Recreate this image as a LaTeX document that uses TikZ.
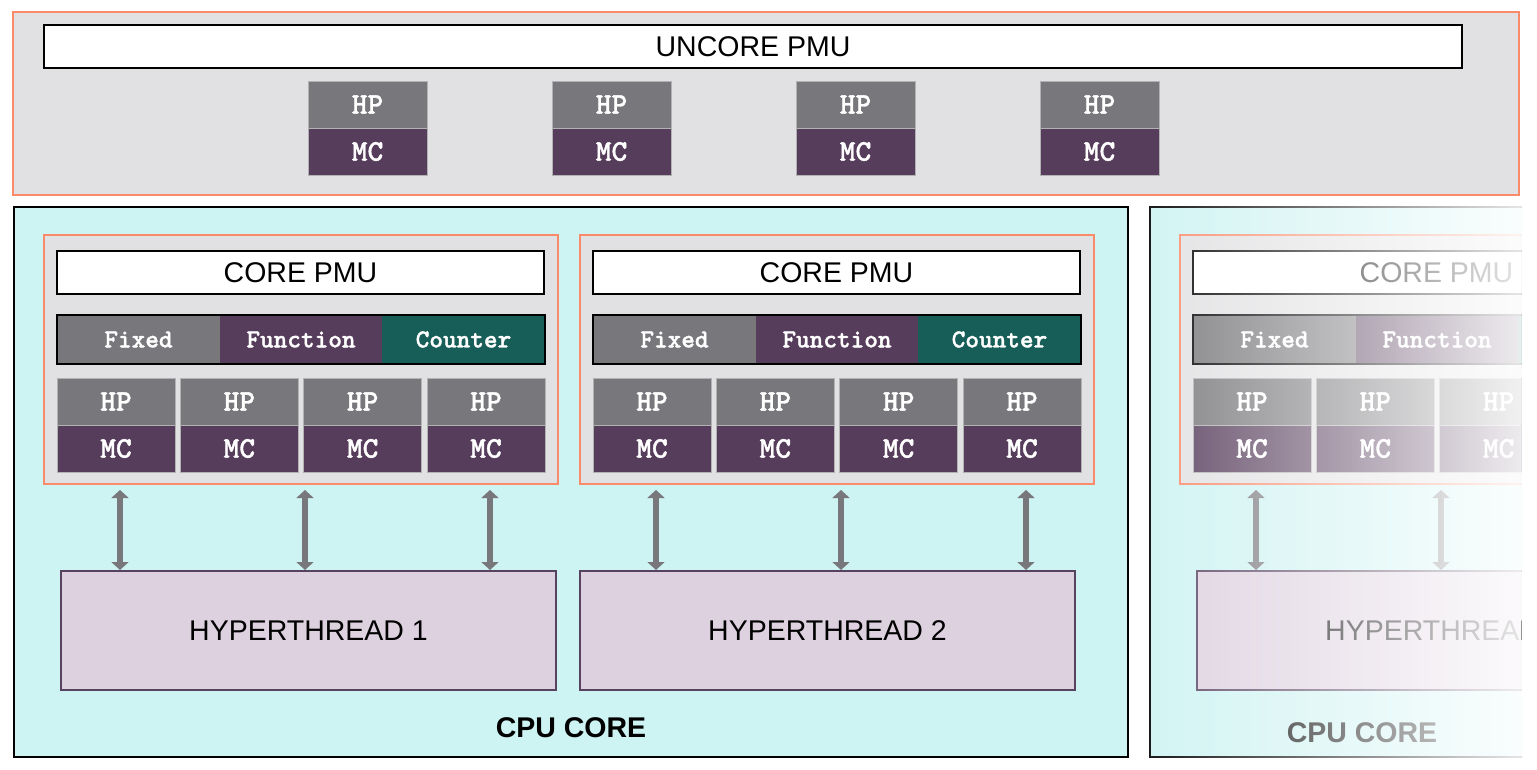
\documentclass[tikz,border=0pt]{standalone}
\usepackage{fontspec}
\setmainfont{Liberation Sans}
\newfontfamily\cellmono{lmmonolt10-bold.otf}[FakeBold=1.2]
\usepackage{tikz}
\usetikzlibrary{arrows.meta,positioning,fadings}

\definecolor{pmuorange}{HTML}{F98A6A}
\definecolor{pmugray}{HTML}{E1E1E3}
\definecolor{hpgray}{HTML}{78787C}
\definecolor{mcplum}{HTML}{573D5C}
\definecolor{cntgreen}{HTML}{175E58}
\definecolor{corecyan}{HTML}{CDF3F2}
\definecolor{htlilac}{HTML}{DDD0DF}
\definecolor{htedge}{HTML}{574360}

\tikzfading[name=fadecore, left color=transparent!90, right color=transparent!10]

\newcommand{\lblfont}{\fontsize{28.5}{32}\selectfont}
\newcommand{\cellfont}{\cellmono\fontsize{30}{32}\selectfont}
\newcommand{\regfont}{\cellmono\fontsize{26}{30}\selectfont}

\begin{document}
\begin{tikzpicture}[x=1pt, y=-1pt,
  panel/.style={draw=pmuorange, line width=2pt, fill=pmugray, inner sep=0pt},
  pmutitle/.style={draw=black, line width=1.5pt, fill=white, inner sep=0pt,
                   minimum height=43pt, font=\lblfont},
  hp/.style={fill=hpgray, draw=black!30, line width=0.6pt, inner sep=0pt, outer sep=0pt,
             minimum width=118pt, minimum height=47pt, text=white, font=\cellfont},
  mc/.style={hp, fill=mcplum},
  reg/.style={inner sep=0pt, outer sep=0pt, minimum width=163pt, minimum height=49pt,
              text=white, font=\regfont},
  core/.style={draw=black, line width=2pt, fill=corecyan, inner sep=0pt,
               minimum width=1114pt, minimum height=550pt},
  thread/.style={draw=htedge, line width=2pt, fill=htlilac, inner sep=0pt,
                 minimum width=495pt, minimum height=119pt, font=\lblfont},
  dar/.style={{Triangle[width=17pt,length=8pt]}-{Triangle[width=17pt,length=8pt]},
              line width=6pt, draw=hpgray, shorten <=5pt},
  lbl/.style={font=\lblfont\bfseries, inner sep=0pt}
]
\useasboundingbox (0,0) rectangle (1537,770);
\clip (0,0) rectangle (1521,770);

% --- uncore ---------------------------------------------------------------
\node[panel, minimum width=1506pt, minimum height=183pt] (uncore) at (766,103.5) {};
\node[pmutitle, minimum width=1418pt] (uncpmu) at (753,46.5) {UNCORE PMU};
\foreach \i/\x in {1/367.5, 2/611.5, 3/855.5, 4/1099.5} {
  \node[hp, minimum width=119pt] (uhp\i) at (\x,104.5) {HP};
  \node[mc, minimum width=119pt, below=0pt of uhp\i] (umc\i) {MC};
}

% --- cpu cores ------------------------------------------------------------
\node[core] (core1) at (571,482) {};
\node[core] (core3) at (1707,482) {};

\foreach \c/\dx in {1/0, 2/536, 3/1136} {
  \node[panel, minimum width=514pt, minimum height=249pt] (pmu\c) at (301+\dx,359.5) {};
  \node[pmutitle, minimum width=487pt] (cpmu\c) at (300.5+\dx,272.5) {CORE PMU};
  \node[reg, fill=hpgray] (fix\c) at (138.5+\dx,339.5) {Fixed};
  \node[reg, fill=mcplum, right=0pt of fix\c, minimum width=162pt] (fun\c) {Function};
  \node[reg, fill=cntgreen, right=0pt of fun\c] (cnt\c) {Counter};
  \draw[line width=1.5pt] (fix\c.north west) rectangle (cnt\c.south east);
  \foreach \j in {1,...,4} {
    \node[hp] (hp\c\j) at ({116+123.33*(\j-1)+\dx},401.5) {HP};
    \node[mc, below=0pt of hp\c\j] (mc\c\j) {MC};
  }
}

% --- hyperthreads ---------------------------------------------------------
\foreach \c/\x in {1/308.5, 2/827.5, 3/1444.5}
  \node[thread] (ht\c) at (\x,630.5) {HYPERTHREAD \c};

\foreach \c/\dx in {1/0, 2/536, 3/1136}
  \foreach \ax in {120, 305, 490} {
    \coordinate (ar) at ({\ax+\dx},0);
    \draw[dar] (pmu\c.south -| ar) -- (ht\c.north -| ar);
  }

\node[lbl] (cpu1) at (571,728) {CPU CORE};
\node[lbl] (cpu3) at (1362,733) {CPU CORE};

% --- fade out third core --------------------------------------------------
\fill[white, path fading=fadecore] (1148,200) rectangle (1521,770);
\end{tikzpicture}
\end{document}
